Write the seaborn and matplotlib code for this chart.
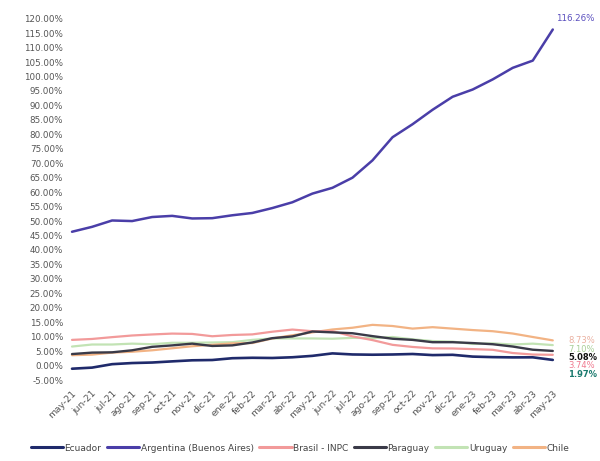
import matplotlib
matplotlib.use("Agg")
import matplotlib.pyplot as plt
import seaborn as sns
import pandas as pd
import numpy as np

meses = ["may-21", "jun-21", "jul-21", "ago-21", "sep-21", "oct-21", "nov-21", "dic-21",
         "ene-22", "feb-22", "mar-22", "abr-22", "may-22", "jun-22", "jul-22", "ago-22",
         "sep-22", "oct-22", "nov-22", "dic-22", "ene-23", "feb-23", "mar-23", "abr-23", "may-23"]

ecuador = [-1.07, -0.69, 0.50, 0.89, 1.07, 1.47, 1.84, 1.94, 2.56, 2.71, 2.64, 2.89, 3.38,
           4.23, 3.86, 3.77, 3.85, 4.02, 3.64, 3.74, 3.12, 2.94, 2.85, 2.87, 1.97]
argentina = [46.3, 48.0, 50.2, 50.0, 51.4, 51.8, 50.9, 51.0, 52.0, 52.8, 54.5, 56.5, 59.5,
             61.5, 65.0, 71.0, 79.0, 83.5, 88.5, 93.0, 95.5, 99.0, 103.0, 105.5, 116.26]
brasil = [8.90, 9.22, 9.85, 10.42, 10.78, 11.08, 10.96, 10.16, 10.60, 10.80, 11.73, 12.47, 11.90,
          11.92, 10.12, 8.83, 7.19, 6.46, 5.97, 5.93, 5.71, 5.47, 4.36, 3.83, 3.74]
paraguay = [4.0, 4.5, 4.6, 5.3, 6.5, 7.0, 7.6, 6.8, 7.0, 8.0, 9.5, 10.1, 11.8,
            11.5, 11.2, 10.2, 9.3, 8.9, 8.1, 8.1, 7.8, 7.4, 6.6, 5.5, 5.08]
uruguay = [6.6, 7.3, 7.3, 7.6, 7.4, 7.9, 7.9, 8.0, 8.1, 8.9, 9.4, 9.4, 9.4,
           9.3, 9.6, 9.5, 9.9, 9.1, 8.5, 8.3, 7.5, 7.7, 7.3, 7.6, 7.10]
chile = [3.6, 3.8, 4.5, 4.8, 5.3, 6.0, 6.7, 7.2, 7.7, 7.8, 9.4, 10.5, 11.5,
         12.5, 13.1, 14.1, 13.7, 12.8, 13.3, 12.8, 12.3, 11.9, 11.1, 9.9, 8.73]

series = {
    "Ecuador": ecuador,
    "Argentina (Buenos Aires)": argentina,
    "Brasil - INPC": brasil,
    "Paraguay": paraguay,
    "Uruguay": uruguay,
    "Chile": chile,
}
palette = {
    "Ecuador": "#1f2a6b",
    "Argentina (Buenos Aires)": "#4a3ea8",
    "Brasil - INPC": "#f29a9a",
    "Paraguay": "#3a3a48",
    "Uruguay": "#c2e3b4",
    "Chile": "#f2b384",
}

rows = []
for name, vals in series.items():
    for i, v in enumerate(vals):
        rows.append({"i": i, "valor": v, "pais": name})
df = pd.DataFrame(rows)

sns.set_theme(style="white")
plt.rcParams["font.family"] = ["DejaVu Sans"]

fig = plt.figure(figsize=(6.0, 4.61), dpi=100)
ax = fig.add_axes([0.11, 0.163, 0.823, 0.809])

widths = {"Ecuador": 1.9, "Argentina (Buenos Aires)": 1.8, "Brasil - INPC": 1.6,
          "Paraguay": 1.7, "Uruguay": 1.6, "Chile": 1.6}
draw_order = ["Uruguay", "Chile", "Brasil - INPC", "Paraguay", "Ecuador", "Argentina (Buenos Aires)"]
for name in draw_order:
    sns.lineplot(data=df[df["pais"] == name], x="i", y="valor", color=palette[name],
                 lw=widths[name], ax=ax, legend=False)

ax.set_xlim(-0.3, 24.35)
ax.set_ylim(-7, 122)
yt = np.arange(-5, 121, 5)
ax.set_yticks(yt)
ax.set_yticklabels([f"{v:.2f}%" for v in yt], fontsize=6.3, color="#555555")
ax.set_xticks(range(len(meses)))
ax.set_xticklabels(meses, rotation=45, ha="right", rotation_mode="anchor",
                   fontsize=6.7, color="#555555")
ax.tick_params(axis="both", length=0, pad=2)
ax.set_xlabel("")
ax.set_ylabel("")
for s in ax.spines.values():
    s.set_visible(False)

# end labels
last = len(meses) - 1
ax.annotate("116.26%", (last, argentina[-1]), xytext=(2, 8), textcoords="offset points",
            fontsize=6.3, color="#5a4fbf", va="center", ha="left")
end_labels = [
    (chile[-1], "8.73%", "#eab0a0", "normal", 0),
    (uruguay[-1], "7.10%", "#a8cf98", "normal", -3),
    (paraguay[-1], "5.08%", "#111111", "bold", -5),
    (brasil[-1], "3.74%", "#f07a90", "normal", -8),
    (ecuador[-1], "1.97%", "#1a7a6e", "bold", -10.5),
]
for v, txt, col, wt, dy in end_labels:
    ax.annotate(txt, (last, v), xytext=(11, dy), textcoords="offset points",
                fontsize=6.0, color=col, fontweight=wt, va="center", ha="left")

handles = [plt.Line2D([0], [0], color=palette[n], lw=2.2) for n in series]
fig.legend(handles, list(series.keys()), loc="center", bbox_to_anchor=(0.5, 0.028),
           ncol=6, frameon=False, fontsize=6.5, handlelength=3.6, handletextpad=0.15,
           columnspacing=0.6, labelcolor="#444444")

fig.savefig("out.png", dpi=100)
